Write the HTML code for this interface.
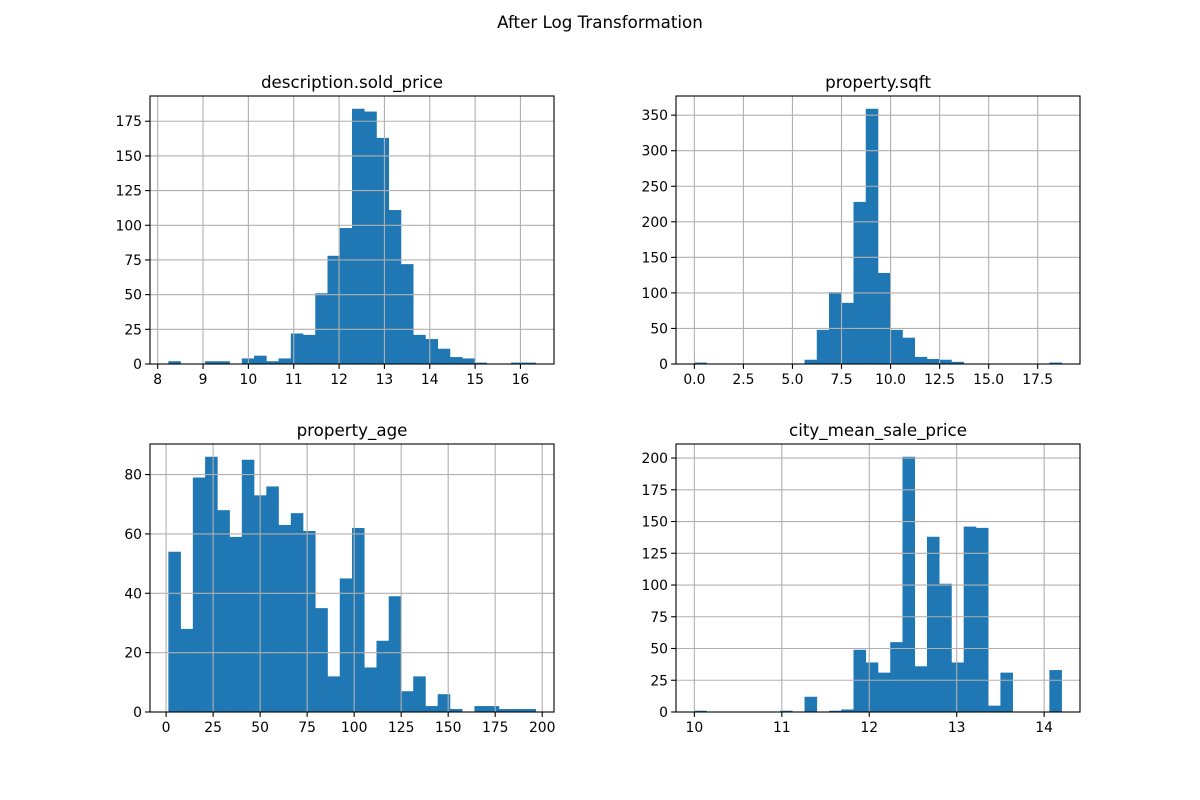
<!DOCTYPE html>
<html><head><meta charset="utf-8"><style>
body{margin:0;background:#fff}
svg{display:block;font-family:"DejaVu Sans","Liberation Sans",sans-serif}
</style></head><body>
<svg id="fig" width="1200" height="800">
<text x="600" y="28" font-size="16.7" text-anchor="middle">After Log Transformation</text>
</svg>
<script>
const soldCounts=[2,0,0,2,2,0,4,6,2,4,22,21,51,78,98,184,182,163,111,72,21,18,11,5,4,1,0,0,1,1];
const soldStart=8.235, soldWidth=0.27;
const soldTicks=[8,9,10,11,12,13,14,15,16];
const sqftCounts=[2,0,0,0,0,0,0,0,0,6,48,101,86,228,359,128,48,37,10,7,6,3,0,0,0,0,0,0,0,2];
const sqftStart=0.0, sqftWidth=0.624;
const sqftTicks=[0,2.5,5,7.5,10,12.5,15,17.5];
const ageCounts=[54,28,79,86,68,59,85,73,76,63,67,61,35,12,45,62,15,24,39,7,12,2,6,1,0,2,2,1,1,1];
const ageStart=1.2, ageWidth=6.51;
const ageTicks=[0,25,50,75,100,125,150,175,200];
const cityCounts=[1,0,0,0,0,0,0,1,0,12,0,1,2,49,39,31,55,201,36,138,101,39,146,145,5,31,0,0,0,33];
const cityStart=10.0, cityWidth=0.14;
const cityTicks=[10,11,12,13,14];
const soldY=[0,25,50,75,100,125,150,175];
const sqftY=[0,50,100,150,200,250,300,350];
const ageY=[0,20,40,60,80];
const cityY=[0,25,50,75,100,125,150,175,200];

const NS='http://www.w3.org/2000/svg';
const fig=document.getElementById('fig');
function mk(tag,attrs,parent){const e=document.createElementNS(NS,tag);for(const k in attrs)e.setAttribute(k,attrs[k]);parent.appendChild(e);return e;}
function fmt(v,ticks){const dec=ticks.some(t=>t%1!==0);return dec?v.toFixed(1):String(v);}
function hist(name,title,ax,counts,start,width,xt,yt){
  const g=mk('g',{},fig);
  
  
  const end=start+width*counts.length, span=end-start;
  const x0=start-0.05*span, x1=end+0.05*span;
  const ymax=Math.max(...counts)*1.05;
  const X=v=>ax.l+(v-x0)/(x1-x0)*(ax.r-ax.l);
  const Y=v=>ax.b-v/ymax*(ax.b-ax.t);
  counts.forEach((c,i)=>{
    if(c<=0)return;
    const r=mk('rect',{x:X(start+i*width),y:Y(c),width:X(start+(i+1)*width)-X(start+i*width)+0.3,height:ax.b-Y(c),fill:'#1f77b4'},g);
    
    
  });
  xt.forEach(t=>{
    const x=X(t);
    const l=mk('line',{x1:x,x2:x,y1:ax.t,y2:ax.b,stroke:'#b0b0b0','stroke-width':1.1},g);
    
    
    mk('line',{x1:x,x2:x,y1:ax.b,y2:ax.b+4.9,stroke:'#000','stroke-width':1.1},g);
    const tx=mk('text',{x:x,y:ax.b+20,'font-size':13.9,'text-anchor':'middle'},g);
    tx.textContent=fmt(t,xt);
    
    
  });
  yt.forEach(t=>{
    const y=Y(t);
    const l=mk('line',{x1:ax.l,x2:ax.r,y1:y,y2:y,stroke:'#b0b0b0','stroke-width':1.1},g);
    
    
    mk('line',{x1:ax.l-4.9,x2:ax.l,y1:y,y2:y,stroke:'#000','stroke-width':1.1},g);
    const tx=mk('text',{x:ax.l-8,y:y+5,'font-size':13.9,'text-anchor':'end'},g);
    tx.textContent=String(t);
    
    
  });
  const fr=mk('rect',{x:ax.l,y:ax.t,width:ax.r-ax.l,height:ax.b-ax.t,fill:'none',stroke:'#000','stroke-width':1.1},g);
  
  
  const ti=mk('text',{x:(ax.l+ax.r)/2,y:ax.t-8,'font-size':16.7,'text-anchor':'middle'},g);
  ti.textContent=title;
  
  
}
hist('sold-price','description.sold_price',{l:150,r:554,t:96,b:364},soldCounts,soldStart,soldWidth,soldTicks,soldY);
hist('sqft','property.sqft',{l:676,r:1080,t:96,b:364},sqftCounts,sqftStart,sqftWidth,sqftTicks,sqftY);
hist('age','property_age',{l:150,r:554,t:444,b:712},ageCounts,ageStart,ageWidth,ageTicks,ageY);
hist('city-price','city_mean_sale_price',{l:676,r:1080,t:444,b:712},cityCounts,cityStart,cityWidth,cityTicks,cityY);
</script>
</body></html>
